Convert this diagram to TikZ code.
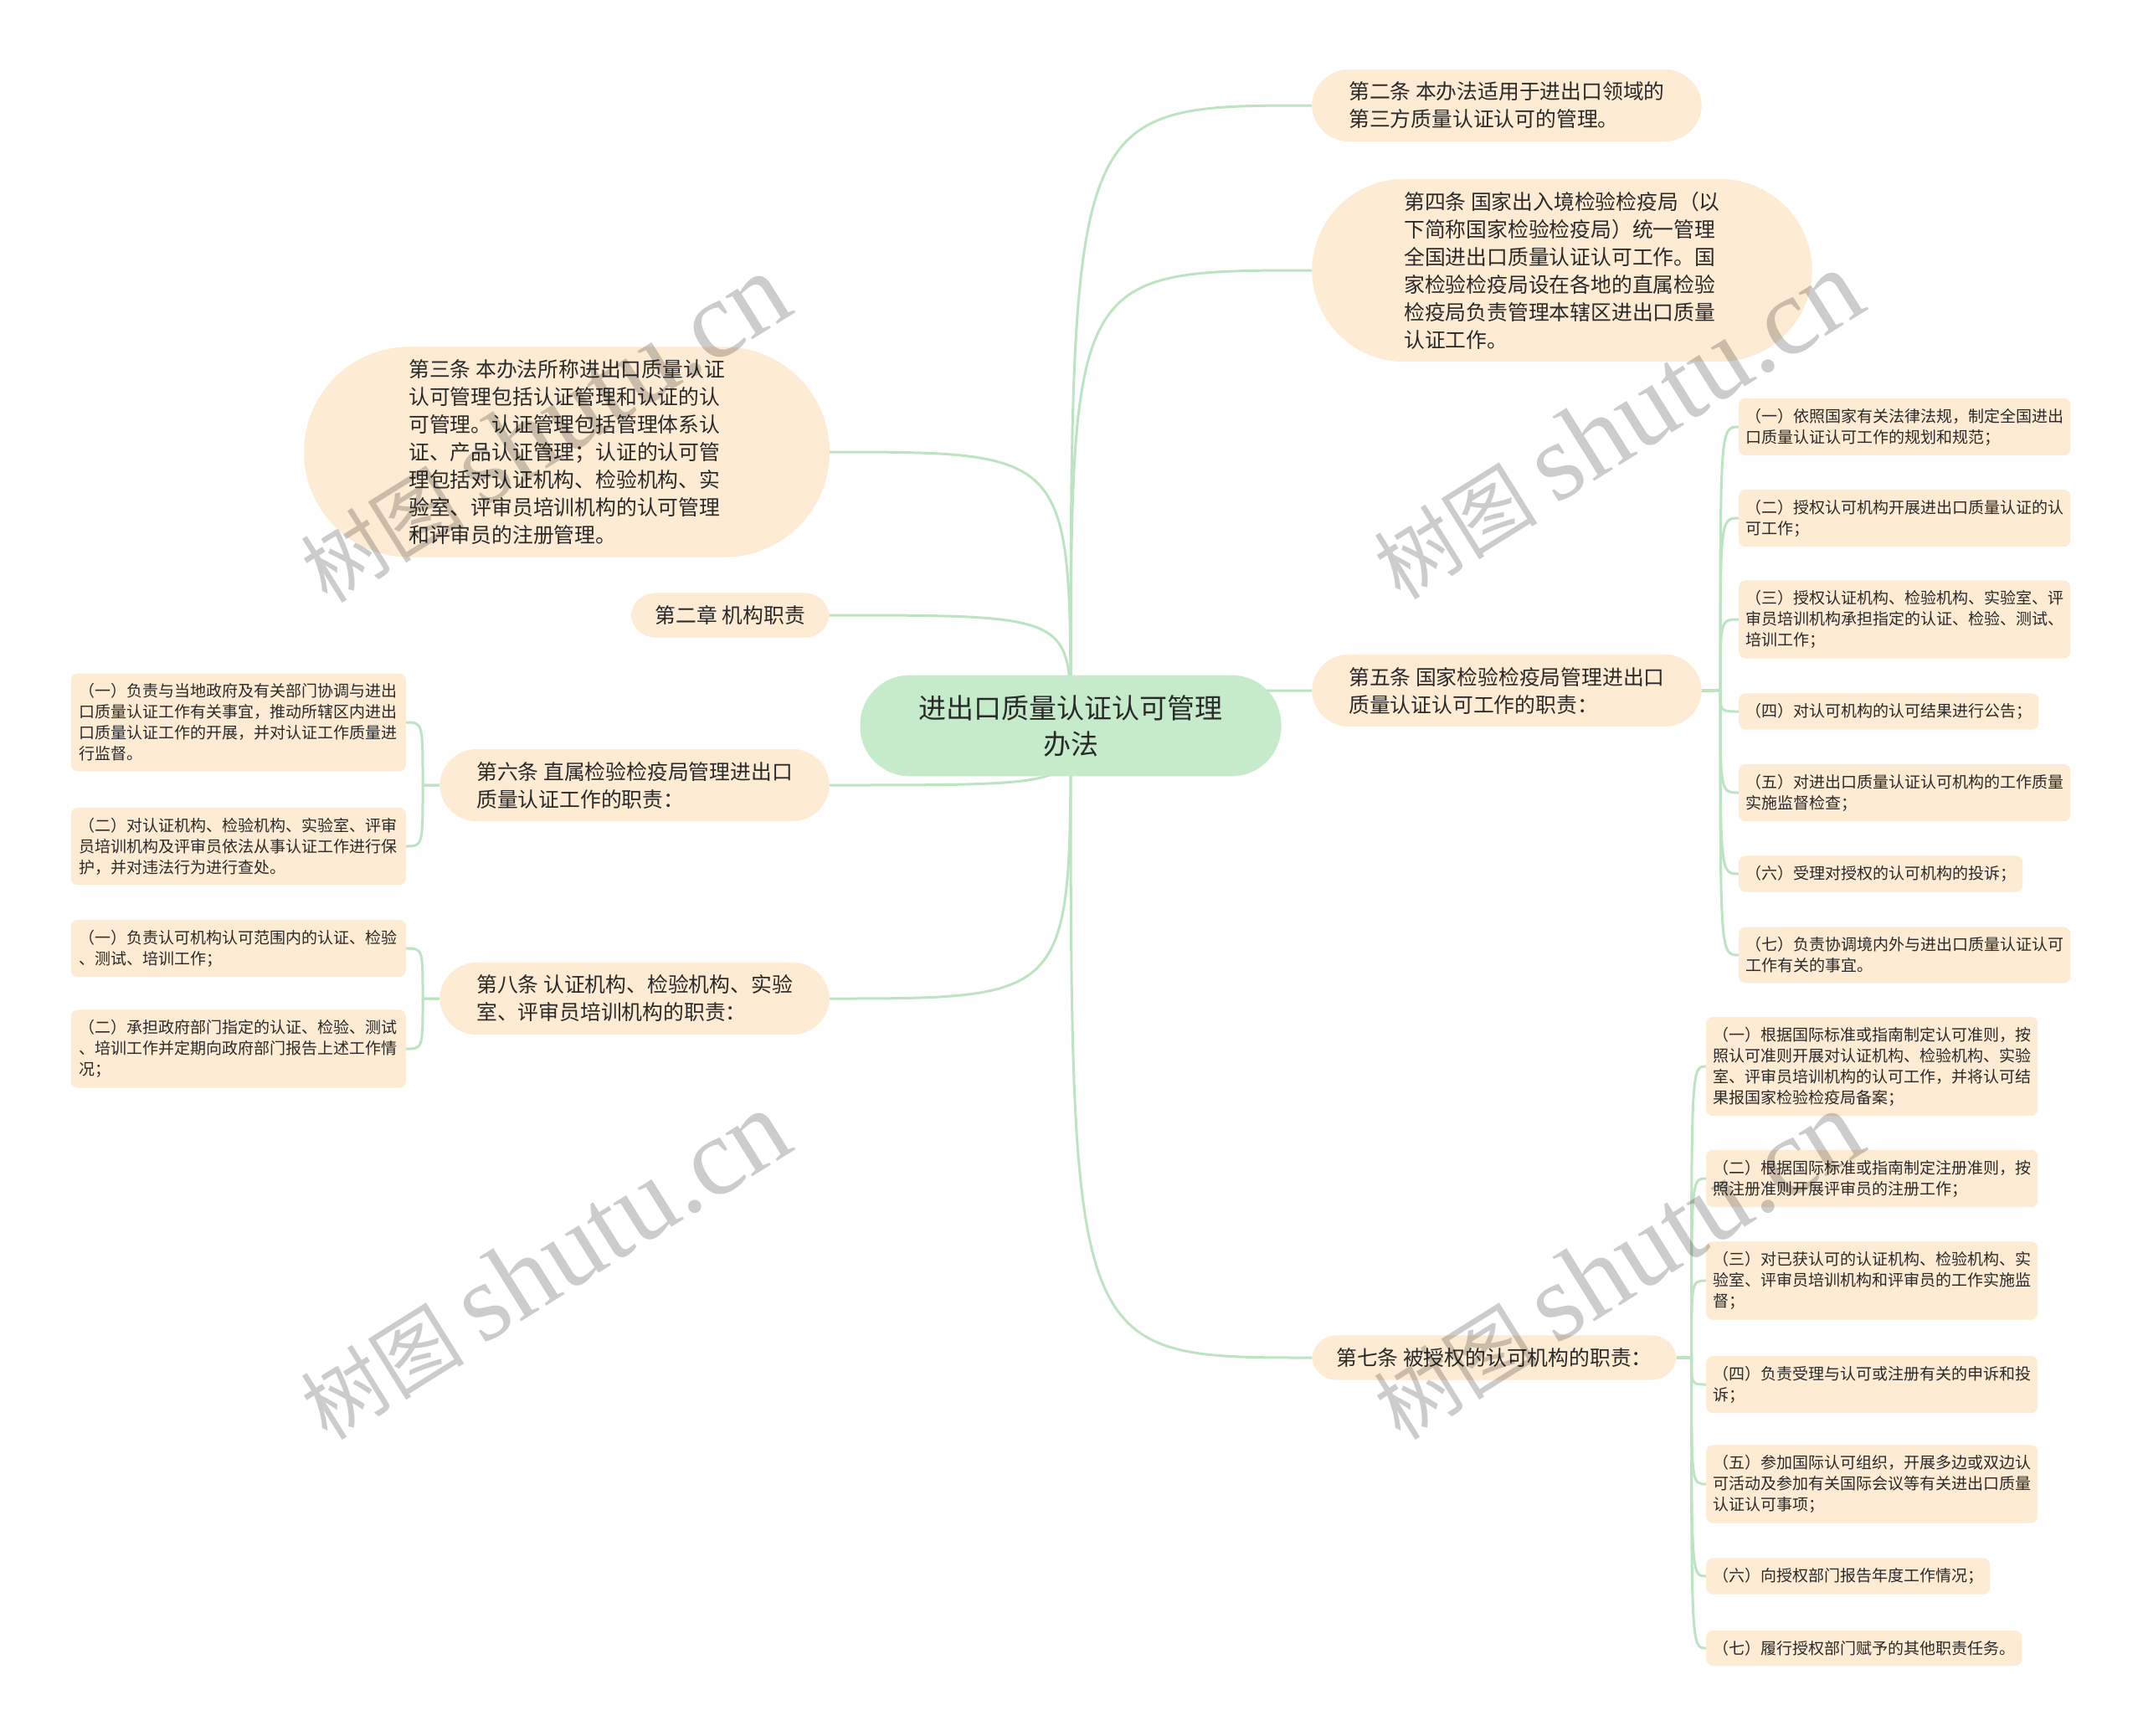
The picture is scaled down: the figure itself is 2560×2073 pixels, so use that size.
\documentclass[tikz,border=0pt]{standalone}
\usepackage{fontspec}
\setmainfont{Noto Sans CJK SC}
\newfontfamily\wmlatin{Liberation Serif}
\usepackage{tikz}
\usetikzlibrary{backgrounds, calc}
\definecolor{RootGreen}{HTML}{C6EBCA}
\definecolor{TopicPeach}{HTML}{FDEBD3}
\definecolor{LinkGreen}{HTML}{BCE4C3}
\definecolor{InkGray}{HTML}{2A2A2A}
\tikzset{
  rootbox/.style={rectangle, rounded corners=59pt, fill=RootGreen, text=InkGray, align=center,
    font=\fontsize{33}{43}\selectfont, inner xsep=70pt, inner ysep=23.5pt},
  topicbox/.style={rectangle, rounded corners=#1, inner xsep=#1, inner ysep=15pt,
    fill=TopicPeach, text=InkGray, align=left, font=\fontsize{24.8}{33}\selectfont},
  leafbox/.style={rectangle, rounded corners=8pt, fill=TopicPeach, text=InkGray, align=left,
    font=\fontsize{19}{25}\selectfont, inner xsep=8pt, inner ysep=12pt},
  link/.style={draw=LinkGreen, line width=3pt},
  watermark/.style={rotate=32, text=black, opacity=0.2, font=\fontsize{98}{98}\selectfont},
}

\begin{document}
\begin{tikzpicture}[x=1pt, y=-1pt]
  \useasboundingbox (0,0) rectangle (2560,2073);

  % centre
  \node[rootbox] (root) at (1279,867) {进出口质量认证认可管理\\办法};

  % right branches
  \node[topicbox=44pt, anchor=west] (art2) at (1567,126) {第二条 本办法适用于进出口领域的\\第三方质量认证认可的管理。};
  \node[topicbox=110pt, anchor=west] (art4) at (1567,323) {第四条 国家出入境检验检疫局（以\\下简称国家检验检疫局）统一管理\\全国进出口质量认证认可工作。国\\家检验检疫局设在各地的直属检验\\检疫局负责管理本辖区进出口质量\\认证工作。};
  \node[topicbox=44pt, anchor=west] (art5) at (1567,825) {第五条 国家检验检疫局管理进出口\\质量认证认可工作的职责：};
  \node[topicbox=29pt, anchor=west] (art7) at (1567,1622) {第七条 被授权的认可机构的职责：};

  % left branches
  \node[topicbox=125pt, anchor=east] (art3) at (991,540) {第三条 本办法所称进出口质量认证\\认可管理包括认证管理和认证的认\\可管理。认证管理包括管理体系认\\证、产品认证管理；认证的认可管\\理包括对认证机构、检验机构、实\\验室、评审员培训机构的认可管理\\和评审员的注册管理。};
  \node[topicbox=29pt, anchor=east] (chap2) at (991,735) {第二章 机构职责};
  \node[topicbox=44pt, anchor=east] (art6) at (991,938) {第六条 直属检验检疫局管理进出口\\质量认证工作的职责：};
  \node[topicbox=44pt, anchor=east] (art8) at (991,1193) {第八条 认证机构、检验机构、实验\\室、评审员培训机构的职责：};

  % duties of art5
  \node[leafbox, anchor=west] (a5-1) at (2077,510) {（一）依照国家有关法律法规，制定全国进出\\口质量认证认可工作的规划和规范；};
  \node[leafbox, anchor=west] (a5-2) at (2077,619) {（二）授权认可机构开展进出口质量认证的认\\可工作；};
  \node[leafbox, anchor=west] (a5-3) at (2077,740) {（三）授权认证机构、检验机构、实验室、评\\审员培训机构承担指定的认证、检验、测试、\\培训工作；};
  \node[leafbox, anchor=west] (a5-4) at (2077,850) {（四）对认可机构的认可结果进行公告；};
  \node[leafbox, anchor=west] (a5-5) at (2077,947) {（五）对进出口质量认证认可机构的工作质量\\实施监督检查；};
  \node[leafbox, anchor=west] (a5-6) at (2077,1044) {（六）受理对授权的认可机构的投诉；};
  \node[leafbox, anchor=west] (a5-7) at (2077,1141) {（七）负责协调境内外与进出口质量认证认可\\工作有关的事宜。};

  % duties of art7
  \node[leafbox, anchor=west] (a7-1) at (2038,1274) {（一）根据国际标准或指南制定认可准则，按\\照认可准则开展对认证机构、检验机构、实验\\室、评审员培训机构的认可工作，并将认可结\\果报国家检验检疫局备案；};
  \node[leafbox, anchor=west] (a7-2) at (2038,1408) {（二）根据国际标准或指南制定注册准则，按\\照注册准则开展评审员的注册工作；};
  \node[leafbox, anchor=west] (a7-3) at (2038,1530) {（三）对已获认可的认证机构、检验机构、实\\验室、评审员培训机构和评审员的工作实施监\\督；};
  \node[leafbox, anchor=west] (a7-4) at (2038,1654) {（四）负责受理与认可或注册有关的申诉和投\\诉；};
  \node[leafbox, anchor=west] (a7-5) at (2038,1773) {（五）参加国际认可组织，开展多边或双边认\\可活动及参加有关国际会议等有关进出口质量\\认证认可事项；};
  \node[leafbox, anchor=west] (a7-6) at (2038,1883) {（六）向授权部门报告年度工作情况；};
  \node[leafbox, anchor=west] (a7-7) at (2038,1969) {（七）履行授权部门赋予的其他职责任务。};

  % duties of art6 and art8
  \node[leafbox, anchor=east, inner xsep=10pt] (a6-1) at (485,863) {（一）负责与当地政府及有关部门协调与进出\\口质量认证工作有关事宜，推动所辖区内进出\\口质量认证工作的开展，并对认证工作质量进\\行监督。};
  \node[leafbox, anchor=east, inner xsep=10pt] (a6-2) at (485,1011) {（二）对认证机构、检验机构、实验室、评审\\员培训机构及评审员依法从事认证工作进行保\\护，并对违法行为进行查处。};
  \node[leafbox, anchor=east, inner xsep=10pt] (a8-1) at (485,1133) {（一）负责认可机构认可范围内的认证、检验\\、测试、培训工作；};
  \node[leafbox, anchor=east, inner xsep=10pt] (a8-2) at (485,1253) {（二）承担政府部门指定的认证、检验、测试\\、培训工作并定期向政府部门报告上述工作情\\况；};

  \coordinate (j5) at ($(art5.east)!0.5!(art5.east -| a5-1.west)$);
  \coordinate (j7) at ($(art7.east)!0.5!(art7.east -| a7-1.west)$);
  \coordinate (j6) at ($(art6.west)!0.5!(art6.west -| a6-1.east)$);
  \coordinate (j8) at ($(art8.west)!0.5!(art8.west -| a8-1.east)$);

  \begin{scope}[on background layer]
    \fill[white] (0,0) rectangle (2560,2073);
    \foreach \n in {art2,art4,art5,art7}
      \draw[link] (root.center) .. controls (root.center |- \n.west) .. (\n.west);
    \foreach \n in {art3,chap2,art6,art8}
      \draw[link] (root.center) .. controls (root.center |- \n.east) .. (\n.east);
    \foreach \i in {1,...,7} {
      \draw[link] (art5.east) -- (j5) .. controls (j5 |- a5-\i.west) .. (a5-\i.west);
      \draw[link] (art7.east) -- (j7) .. controls (j7 |- a7-\i.west) .. (a7-\i.west);
    }
    \foreach \i in {1,2} {
      \draw[link] (art6.west) -- (j6) .. controls (j6 |- a6-\i.east) .. (a6-\i.east);
      \draw[link] (art8.west) -- (j8) .. controls (j8 |- a8-\i.east) .. (a8-\i.east);
    }
  \end{scope}

  % watermarks
  \foreach \p in {(650,512),(1932,508),(650,1512),(1932,1512)}
    \node[watermark] at \p {树图 {\wmlatin\fontsize{132}{132}\selectfont shutu.cn}};
\end{tikzpicture}
\end{document}
